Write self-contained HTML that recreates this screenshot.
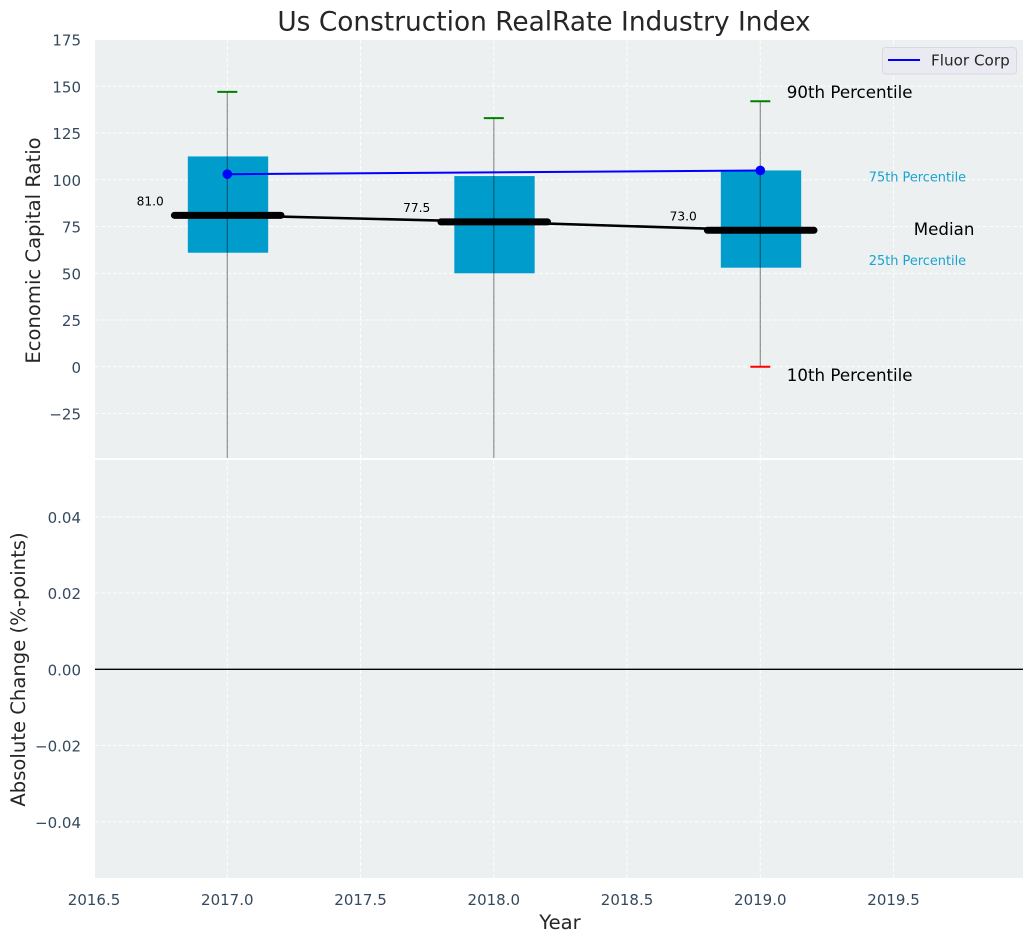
<!DOCTYPE html>
<html>
<head>
<meta charset="utf-8">
<style>
html,body{margin:0;padding:0;background:#fff;width:1034px;height:942px;overflow:hidden}
svg{display:block;font-family:"DejaVu Sans","Liberation Sans",sans-serif}
</style>
</head>
<body>
<svg id="chart" width="1034" height="942" viewBox="0 0 1034 942">
  <defs>
    <clipPath id="top-clip"><rect x="95" y="40" width="928" height="418"/></clipPath>
  </defs>
  <rect x="95" y="40" width="928" height="418" fill="#ecf0f1"/>
  <rect x="95" y="460" width="928" height="418" fill="#ecf0f1"/>
  <g id="grid-layer"></g>
  <g id="ticks-layer" font-size="15" fill="#34495e"></g>
  <g id="marks-layer" clip-path="url(#top-clip)"></g>
  <g id="labels-layer"></g>
  <line id="zero-line" x1="95" x2="1023" stroke="#000" stroke-width="1.4"/>

  <text x="544" y="30.5" font-size="26.4" fill="#262626" text-anchor="middle">Us Construction RealRate Industry Index</text>
  <text transform="translate(40 250.5) rotate(-90)" font-size="19.6" fill="#262626" text-anchor="middle">Economic Capital Ratio</text>
  <text transform="translate(25 669.5) rotate(-90)" font-size="19.6" fill="#262626" text-anchor="middle">Absolute Change (%-points)</text>
  <text x="560" y="929" font-size="19.6" fill="#262626" text-anchor="middle">Year</text>

  <text id="note-p90" font-size="16.67" fill="#000">90th Percentile</text>
  <text id="note-p75" font-size="12.9" fill="#1aa3cf">75th Percentile</text>
  <text id="note-med" font-size="16.67" fill="#000">Median</text>
  <text id="note-p25" font-size="12.9" fill="#1aa3cf">25th Percentile</text>
  <text id="note-p10" font-size="16.67" fill="#000">10th Percentile</text>

  <g>
    <rect x="882.5" y="47.5" width="134" height="26.5" rx="3" fill="#eaeaf2" stroke="#d8d8de" stroke-width="1"/>
    <line x1="888" x2="920" y1="60" y2="60" stroke="#0000ff" stroke-width="2"/>
    <text x="931" y="65.5" font-size="15.2" fill="#262626">Fluor Corp</text>
  </g>
</svg>
<script>
var years = [2017, 2018, 2019];
var p90 = [147, 133, 142];
var p75 = [112.5, 102, 105];
var median = [81, 77.5, 73];
var p25 = [61, 50, 53];
var p10 = [-60, -60, 0];
var companyYears = [2017, 2019];
var companyValues = [103, 105];
var xTicks = [2016.5, 2017, 2017.5, 2018, 2018.5, 2019, 2019.5];
var upperTicks = [-25, 0, 25, 50, 75, 100, 125, 150, 175];
var lowerTicks = [-0.04, -0.02, 0, 0.02, 0.04];

var NS = 'http://www.w3.org/2000/svg';
function x(v) { return 227.3 + (v - 2017) * 266.5; }
function yTop(v) { return 366.8 - v * 1.87; }
function yBot(v) { return 669.3 - v * 3812; }
function make(tag, parent, attrs) {
  var el = document.createElementNS(NS, tag);
  for (var k in attrs) { el.setAttribute(k, attrs[k]); }
  parent.appendChild(el);
  return el;
}
function fmtTick(v, digits) {
  return (v < 0 ? '\u2212' : '') + Math.abs(v).toFixed(digits);
}
var grid = document.getElementById('grid-layer');
var ticks = document.getElementById('ticks-layer');
var marks = document.getElementById('marks-layer');
var labels = document.getElementById('labels-layer');
var gridStyle = { stroke: '#ffffff', 'stroke-width': 1, 'stroke-dasharray': '4 2', opacity: 0.9 };
function gridLine(x1, y1, x2, y2) {
  var a = { x1: x1, y1: y1, x2: x2, y2: y2 };
  for (var k in gridStyle) { a[k] = gridStyle[k]; }
  return make('line', grid, a);
}

xTicks.forEach(function (t) {
  var g1 = gridLine(x(t), 40, x(t), 458);
  
  
  var g2 = gridLine(x(t), 460, x(t), 878);
  
  
  var tx = make('text', ticks, { x: x(t), y: 905, 'text-anchor': 'middle' });
  tx.textContent = t.toFixed(1);
  
  
});
upperTicks.forEach(function (t) {
  var g = gridLine(95, yTop(t), 1023, yTop(t));
  
  
  var tx = make('text', ticks, { x: 81, y: yTop(t) + 6, 'text-anchor': 'end' });
  tx.textContent = fmtTick(t, 0);
  
  
});
lowerTicks.forEach(function (t) {
  var g = gridLine(95, yBot(t), 1023, yBot(t));
  
  
  var tx = make('text', ticks, { x: 81, y: yBot(t) + 6, 'text-anchor': 'end' });
  tx.textContent = fmtTick(t, 2);
  
  
});
var zero = document.getElementById('zero-line');
zero.setAttribute('y1', yBot(0));
zero.setAttribute('y2', yBot(0));

function polyPoints(xs, ys, fy) {
  return xs.map(function (v, i) { return x(v) + ',' + fy(ys[i]); }).join(' ');
}

years.forEach(function (yr, i) {
  var box = make('rect', marks, {
    x: x(yr - 0.15) + 0.5, y: yTop(p75[i]), width: x(yr + 0.15) - x(yr - 0.15) + 0.4,
    height: yTop(p25[i]) - yTop(p75[i]), fill: '#009ccc'
  });
  
  
  var whisk = make('line', marks, {
    x1: x(yr), x2: x(yr), y1: yTop(p90[i]), y2: yTop(p10[i]),
    stroke: '#000', 'stroke-opacity': 0.42, 'stroke-width': 1.2
  });
  
  
  var capHi = make('line', marks, {
    x1: x(yr - 0.0375), x2: x(yr + 0.0375), y1: yTop(p90[i]), y2: yTop(p90[i]),
    stroke: '#008000', 'stroke-width': 2
  });
  
  
  var capLo = make('line', marks, {
    x1: x(yr - 0.0375), x2: x(yr + 0.0375), y1: yTop(p10[i]), y2: yTop(p10[i]),
    stroke: '#ff0000', 'stroke-width': 2
  });
  
  
});

var medLine = make('polyline', marks, {
  points: polyPoints(years, median, yTop), fill: 'none', stroke: '#000', 'stroke-width': 2.6
});



years.forEach(function (yr, i) {
  var bar = make('line', marks, {
    x1: x(yr - 0.2) + 0.4, x2: x(yr + 0.2) + 0.4, y1: yTop(median[i]), y2: yTop(median[i]),
    stroke: '#000', 'stroke-width': 7, 'stroke-linecap': 'round'
  });
  
  
  var lab = make('text', labels, {
    x: x(yr) - 63.5, y: yTop(median[i]) - 10, 'text-anchor': 'end',
    'font-size': 12.2, fill: '#000'
  });
  lab.textContent = median[i].toFixed(1);
  
  
});

var compLine = make('polyline', marks, {
  points: polyPoints(companyYears, companyValues, yTop), fill: 'none', stroke: '#0000ff', 'stroke-width': 2
});


companyYears.forEach(function (yr, i) {
  var dot = make('circle', marks, { cx: x(yr), cy: yTop(companyValues[i]), r: 4.8, fill: '#0000ff' });
  
  
});

var last = years.length - 1;
var lastX = x(years[last]);
function place(id, px, py) {
  var el = document.getElementById(id);
  el.setAttribute('x', px);
  el.setAttribute('y', py);
}
place('note-p90', lastX + 26.5, yTop(p90[last]) - 3.5);
place('note-p75', lastX + 108.5, yTop(p75[last]) + 11);
place('note-med', lastX + 153.5, yTop(median[last]) + 4.5);
place('note-p25', lastX + 108.5, yTop(p25[last]) - 2.5);
place('note-p10', lastX + 26.5, yTop(p10[last]) + 14);
</script>
</body>
</html>
